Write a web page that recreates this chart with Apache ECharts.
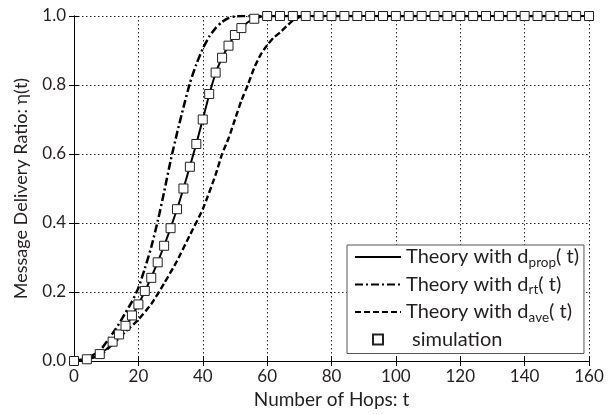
<!DOCTYPE html>
<html>
<head>
<meta charset="utf-8">
<script src="https://cdn.jsdelivr.net/npm/echarts@6/dist/echarts.min.js"></script>
<style>
  html, body { margin: 0; padding: 0; background: #fff; }
  #chart { width: 609px; height: 414px; }
</style>
</head>
<body>
<div id="chart"></div>
<script>
// hops t
const propX = [0, 4, 8, 12, 16, 20, 24, 28, 32, 34, 36, 38, 40, 42, 44, 46, 48, 50, 52, 54, 56, 58, 60, 160];
const propY = [0, 0.004, 0.02, 0.052, 0.1, 0.164, 0.242, 0.334, 0.44, 0.5, 0.564, 0.63, 0.7, 0.772, 0.834, 0.879, 0.914, 0.945, 0.966, 0.982, 0.992, 0.998, 1, 1];

const rtX = [0, 4, 8, 12, 14, 16, 18, 20, 22, 24, 26, 28, 30, 32, 34, 36, 38, 40, 42, 44, 46, 48, 50, 52, 160];
const rtY = [0, 0.008, 0.03, 0.08, 0.108, 0.14, 0.172, 0.212, 0.268, 0.33, 0.405, 0.49, 0.58, 0.66, 0.735, 0.805, 0.86, 0.905, 0.94, 0.965, 0.983, 0.994, 0.999, 1, 1];

const aveX = [0, 4, 8, 12, 16, 20, 24, 28, 32, 36, 40, 44, 46, 48, 50, 52, 54, 56, 58, 60, 62, 64, 66, 68, 70, 72];
const aveY = [0, 0.005, 0.016, 0.048, 0.085, 0.12, 0.165, 0.225, 0.29, 0.365, 0.44, 0.54, 0.6, 0.645, 0.7, 0.755, 0.8, 0.85, 0.888, 0.915, 0.937, 0.952, 0.97, 0.987, 0.997, 1];

const simX = [0, 4, 8, 12, 14, 16, 18, 20, 22, 24, 26, 28, 30, 32, 34, 36, 38, 40, 42, 44, 46, 48, 50, 52,
  56, 60, 64, 68, 72, 76, 80, 84, 88, 92, 96, 100, 104, 108, 112, 116, 120, 124, 128, 132, 136, 140, 144, 148, 152, 156, 160];
const simY = [0, 0.005, 0.02, 0.056, 0.077, 0.102, 0.132, 0.164, 0.203, 0.241, 0.286, 0.334, 0.385, 0.44, 0.5, 0.563, 0.629, 0.7, 0.774, 0.836, 0.879, 0.914, 0.945, 0.965,
  0.992, 1, 1, 1, 1, 1, 1, 1, 1, 1, 1, 1, 1, 1, 1, 1, 1, 1, 1, 1, 1, 1, 1, 1, 1, 1, 1];

const xTicks = { min: 0, max: 160, interval: 20 };
const yTicks = { min: 0, max: 1, interval: 0.2 };

const seriesNames = ["prop", "rt", "ave", "simulation"];

const zip = (xs, ys) => xs.map((x, i) => [x, ys[i]]);

const txt = "#231f20";
const font = "Lato";

const chart = echarts.init(document.getElementById("chart"), null, { renderer: "canvas" });

function axisBase(extra) {
  return Object.assign({
    type: "value",
    axisLine: { show: true, lineStyle: { color: "#000", width: 1 } },
    axisTick: { show: true, inside: true, length: 5, lineStyle: { color: "#000" } },
    axisLabel: { show: false },
    splitLine: { show: false },
  }, extra);
}

// legend entries: hide the marker circle ECharts puts on line icons, square icon for simulation
const legendData = seriesNames.map((name) =>
  name === "simulation"
    ? { name, icon: "path://M0 0H10V10H0Z" }
    : { name, itemStyle: { opacity: 0 } }
);

chart.setOption({
  animation: false,
  textStyle: { fontFamily: font, color: txt },
  grid: { left: 74, right: 20, top: 16, bottom: 53, containLabel: false },
  legend: {
    orient: "vertical",
    left: 347,
    top: 245,
    backgroundColor: "#fff",
    borderColor: "#555",
    borderWidth: 1,
    borderRadius: 0,
    padding: [2, 5, 4, 7],
    itemGap: 5,
    itemWidth: 46,
    itemHeight: 10,
    data: legendData,
    textStyle: {
      fontFamily: font,
      color: txt,
      fontSize: 20,
      rich: {
        a: { fontFamily: font, fontSize: 20, color: txt, lineHeight: 21 },
        s: { fontFamily: font, fontSize: 13.5, color: txt, lineHeight: 13, verticalAlign: "bottom", padding: [0, 0, -2, 0] },
        m: { fontFamily: font, fontSize: 20, color: txt, lineHeight: 21, padding: [0, 0, 0, 6] },
      },
    },
    formatter: (name) => {
      if (name === "simulation") return "{m|simulation}";
      return `{a|Theory with d}{s|${name}}{a|( t)}`;
    },
  },
  xAxis: [
    axisBase({
      min: xTicks.min, max: xTicks.max, interval: xTicks.interval,
      position: "bottom",
      name: "Number of Hops: t",
      nameLocation: "middle",
      nameGap: 28,
      nameTextStyle: { fontFamily: font, fontSize: 19, color: txt },
      axisLabel: { show: true, margin: 7, fontFamily: font, fontSize: 17, color: txt },
      splitLine: { show: true, lineStyle: { color: "#222", type: [1.5, 2.5], width: 1 } },
    }),
    axisBase({ min: xTicks.min, max: xTicks.max, interval: xTicks.interval, position: "top" }),
  ],
  yAxis: [
    axisBase({
      min: yTicks.min, max: yTicks.max, interval: yTicks.interval,
      position: "left",
      name: "Message Delivery Ratio: η(t)",
      nameLocation: "middle",
      nameGap: 44,
      nameTextStyle: { fontFamily: font, fontSize: 18, color: txt },
      axisLabel: { show: true, margin: 8, fontFamily: font, fontSize: 17, color: txt, formatter: (v) => v.toFixed(1) },
      splitLine: { show: true, lineStyle: { color: "#222", type: [1.5, 2.5], width: 1 } },
    }),
    axisBase({ min: yTicks.min, max: yTicks.max, interval: yTicks.interval, position: "right" }),
  ],
  series: [
    {
      name: "prop", type: "line", data: zip(propX, propY), symbol: "none", smooth: 0.2,
      lineStyle: { color: "#000", width: 2 }, itemStyle: { color: "#000" }, z: 3,
    },
    {
      name: "rt", type: "line", data: zip(rtX, rtY), symbol: "none", smooth: 0.2,
      lineStyle: { color: "#000", width: 2.5, type: [8, 3, 2, 3] }, itemStyle: { color: "#000" }, z: 3,
    },
    {
      name: "ave", type: "line", data: zip(aveX, aveY), symbol: "none", smooth: 0.2,
      lineStyle: { color: "#000", width: 2.4, type: [6, 3] }, itemStyle: { color: "#000" }, z: 3,
    },
    {
      name: "simulation", type: "scatter", data: zip(simX, simY), symbol: "rect", symbolSize: 9,
      clip: false,
      itemStyle: { color: "#fff", borderColor: "#222", borderWidth: 1, opacity: 1 }, z: 5,
    },
  ],
});
</script>
</body>
</html>
